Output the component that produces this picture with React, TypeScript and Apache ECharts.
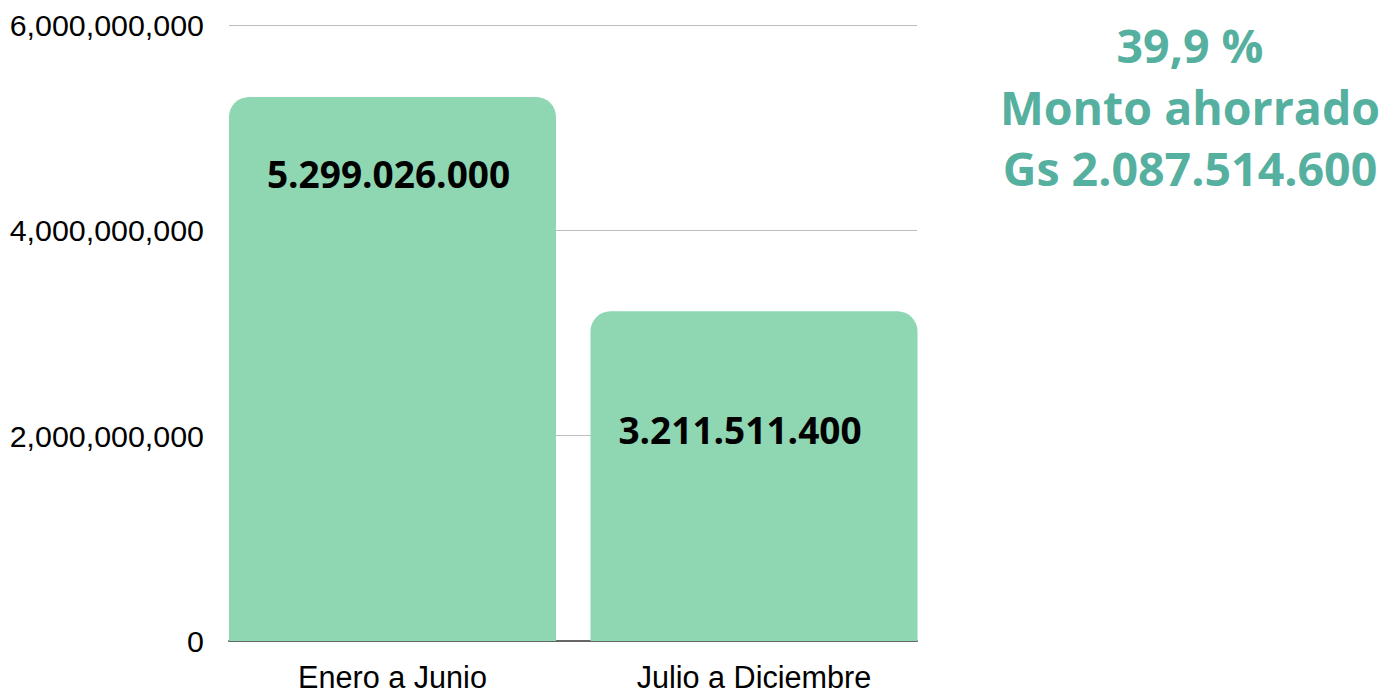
import React, { useEffect, useRef } from "react";
import * as echarts from "echarts";

const categories = ["Enero a Junio", "Julio a Diciembre"];
const values = [5299026000, 3211511400];
const valueLabels = ["5.299.026.000", "3.211.511.400"];
const labelDistances = [59, 100];
const labelShifts = [-4, -14];
const yMin = 0;
const yMax = 6000000000;
const yInterval = 2000000000;
const summaryLines = ["39,9 %", "Monto ahorrado", "Gs 2.087.514.600"];

const fmtComma = (v: number) =>
  String(Math.round(v)).replace(/\B(?=(\d{3})+(?!\d))/g, ",");

export default function App() {
  const ref = useRef<HTMLDivElement>(null);
  useEffect(() => {
    if (!ref.current) return;
    const chart = echarts.init(ref.current, null, { renderer: "svg" });
    const option: any = {
      animation: false,
      backgroundColor: "#ffffff",
      grid: [
        { left: 211.75, right: 462.25, top: 25, bottom: 52 },
        { left: 229, right: 480, top: 25, bottom: 52 },
      ],
      xAxis: [
        {
          type: "category",
          gridIndex: 0,
          data: categories,
          axisLine: { show: false },
          axisTick: { show: false },
          axisLabel: {
            margin: 20,
            color: "#000",
            fontFamily: "Liberation Sans, Arial, sans-serif",
            fontSize: 30.6,
          },
        },
        {
          type: "category",
          gridIndex: 1,
          data: [""],
          axisLine: { show: true, lineStyle: { color: "#666", width: 2 } },
          axisTick: { show: false },
          axisLabel: { show: false },
        },
      ],
      yAxis: [
        {
          type: "value",
          gridIndex: 0,
          min: yMin,
          max: yMax,
          interval: yInterval,
          axisLine: { show: false },
          axisTick: { show: false },
          axisLabel: { show: false },
          splitLine: { show: false },
        },
        {
          type: "value",
          gridIndex: 1,
          min: yMin,
          max: yMax,
          interval: yInterval,
          axisLine: { show: false },
          axisTick: { show: false },
          axisLabel: {
            margin: 25,
            color: "#000",
            fontFamily: "Liberation Sans, Arial, sans-serif",
            fontSize: 30.4,
            formatter: (v: number) => fmtComma(v),
          },
          splitLine: { show: true, lineStyle: { color: "#bdbdbd", width: 1 } },
        },
      ],
      series: [
        {
          type: "bar",
          xAxisIndex: 0,
          yAxisIndex: 0,
          barWidth: 327,
          itemStyle: { color: "#8fd6b2", borderRadius: [20, 20, 0, 0] },
          data: values.map((v, i) => ({
            value: v,
            label: {
              show: true,
              position: "insideTop",
              distance: labelDistances[i],
              offset: [labelShifts[i], 0],
              formatter: valueLabels[i],
              color: "#000",
              fontFamily: "Open Sans, sans-serif",
              fontWeight: "bold",
              fontSize: 37,
              lineHeight: 36,
            },
          })),
        },
      ],
      graphic: summaryLines.map((t, i) => ({
        type: "text",
        x: 1190,
        y: 45 + i * 61.5,
        style: {
          text: t,
          fill: "#56b0a0",
          font: "bold 46.5px 'Open Sans', sans-serif",
          textAlign: "center",
          textVerticalAlign: "middle",
        },
      })),
    };
    chart.setOption(option);
    return () => chart.dispose();
  }, []);
  return (
    <div
      ref={ref}
      style={{ position: "fixed", left: 0, top: 0, width: 1397, height: 693 }}
    />
  );
}
